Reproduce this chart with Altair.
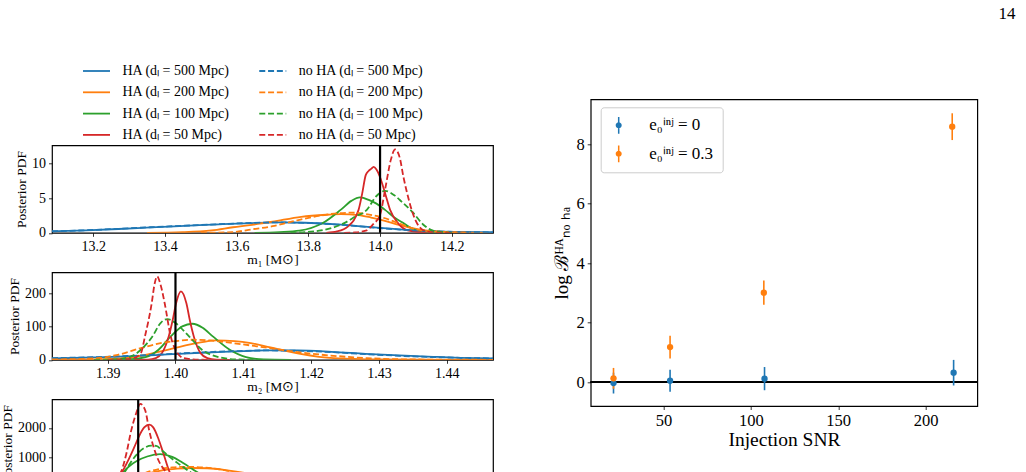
import altair as alt
import pandas as pd

FONT = "Liberation Serif"

# ---------------- series definitions ----------------
ha_series = ["HA (dₗ = 500 Mpc)", "HA (dₗ = 200 Mpc)", "HA (dₗ = 100 Mpc)", "HA (dₗ = 50 Mpc)"]
noha_series = ["no HA (dₗ = 500 Mpc)", "no HA (dₗ = 200 Mpc)", "no HA (dₗ = 100 Mpc)", "no HA (dₗ = 50 Mpc)"]
dist_colors = ["#1f77b4", "#ff7f0e", "#2ca02c", "#d62728"]

# ---------------- panel 1: m1 ----------------
m1_blue_ha_x = [13.085, 13.18, 13.27, 13.36, 13.455, 13.55, 13.643, 13.72, 13.79, 13.88, 13.972, 14.065, 14.16, 14.23, 14.315]
m1_blue_ha_y = [0.2, 0.35, 0.55, 0.78, 1.0, 1.22, 1.4, 1.5, 1.45, 1.2, 0.82, 0.45, 0.2, 0.12, 0.08]
m1_blue_no_x = m1_blue_ha_x
m1_blue_no_y = [0.22, 0.37, 0.57, 0.8, 1.02, 1.24, 1.42, 1.5, 1.44, 1.18, 0.8, 0.43, 0.19, 0.11, 0.07]
m1_orange_ha_x = [13.35, 13.45, 13.53, 13.59, 13.643, 13.70, 13.78, 13.85, 13.89, 13.94, 13.975, 14.008, 14.056, 14.11, 14.19, 14.3]
m1_orange_ha_y = [0, 0.1, 0.35, 0.8, 1.15, 1.6, 2.3, 2.6, 2.7, 2.55, 2.2, 1.8, 1.1, 0.45, 0.1, 0]
m1_orange_no_x = [13.5, 13.587, 13.643, 13.70, 13.753, 13.836, 13.88, 13.92, 13.96, 14.0, 14.056, 14.10, 14.16, 14.25]
m1_orange_no_y = [0, 0.1, 0.5, 0.95, 1.6, 2.5, 2.8, 2.9, 2.7, 2.3, 1.3, 0.5, 0.15, 0.02]
m1_green_ha_x = [13.65, 13.72, 13.775, 13.84, 13.89, 13.92, 13.944, 13.97, 13.99, 14.014, 14.04, 14.065, 14.1, 14.15, 14.2]
m1_green_ha_y = [0, 0.1, 0.3, 1.4, 3.3, 4.6, 5.1, 4.7, 4.2, 3.3, 2.2, 1.4, 0.4, 0.1, 0]
m1_green_no_x = [13.75, 13.83, 13.90, 13.93, 13.963, 13.99, 14.014, 14.04, 14.06, 14.092, 14.12, 14.148, 14.2]
m1_green_no_y = [0, 0.3, 1.4, 2.3, 3.3, 5.3, 6.05, 5.4, 4.5, 2.9, 1.2, 0.3, 0]
m1_red_ha_x = [13.85, 13.88, 13.91, 13.94, 13.95, 13.96, 13.968, 13.975, 13.982, 13.99, 14.0, 14.014, 14.028, 14.05, 14.08, 14.13]
m1_red_ha_y = [0, 0.2, 0.9, 3.3, 5.6, 8.3, 8.9, 9.2, 9.5, 9.1, 8.0, 5.7, 3.3, 1.4, 0.3, 0]
m1_red_no_x = [13.90, 13.93, 13.96, 13.98, 14.0, 14.015, 14.03, 14.042, 14.055, 14.065, 14.08, 14.09, 14.105, 14.12, 14.15, 14.2]
m1_red_no_y = [0, 0.05, 0.3, 1.2, 2.6, 6.5, 10.5, 12.0, 10.8, 8.1, 4.8, 3.0, 1.2, 0.4, 0.05, 0]

# ---------------- panel 2: m2 ----------------
m2_blue_x = [1.3818, 1.3880, 1.3938, 1.3988, 1.4037, 1.4087, 1.4135, 1.4180, 1.4230, 1.4280, 1.4330, 1.4380, 1.4420, 1.4468]
m2_blue_ha_y = [4, 7, 11, 16, 21, 25, 28, 28, 24, 18, 13, 9, 6, 4]
m2_blue_no_y = [5, 8, 12, 17, 22, 26, 28, 27, 23, 17, 12, 8, 6, 4]
m2_orange_ha_x = [1.3818, 1.3880, 1.3938, 1.3988, 1.4037, 1.4060, 1.4087, 1.4111, 1.4140, 1.4184, 1.4233, 1.4300, 1.4400, 1.4468]
m2_orange_ha_y = [0, 1, 8, 30, 52, 58, 56, 50, 37, 18, 5, 1, 0, 0]
m2_orange_no_x = [1.3818, 1.3880, 1.3915, 1.3949, 1.3978, 1.4000, 1.4023, 1.4050, 1.4085, 1.4135, 1.4184, 1.4233, 1.4282, 1.4350, 1.4468]
m2_orange_no_y = [1, 4, 15, 35, 50, 56, 60, 58, 50, 36, 22, 12, 5, 1, 0]
m2_green_ha_x = [1.3900, 1.3930, 1.3956, 1.3975, 1.3993, 1.4010, 1.4025, 1.4040, 1.4055, 1.4080, 1.4104, 1.4130, 1.4170]
m2_green_ha_y = [0, 1, 8, 30, 70, 100, 108, 96, 70, 30, 8, 1, 0]
m2_green_no_x = [1.3880, 1.3910, 1.3932, 1.3949, 1.3966, 1.3978, 1.3988, 1.4000, 1.4020, 1.4039, 1.4064, 1.4090, 1.4130]
m2_green_no_y = [0, 1, 8, 30, 70, 110, 122, 110, 70, 30, 8, 1, 0]
m2_red_ha_x = [1.3940, 1.3960, 1.3971, 1.3980, 1.3990, 1.3996, 1.4001, 1.4008, 1.4016, 1.4021, 1.4027, 1.4037, 1.4047, 1.4060, 1.4080]
m2_red_ha_y = [0, 0.5, 5, 20, 70, 120, 170, 205, 170, 120, 70, 20, 5, 0.5, 0]
m2_red_no_x = [1.3900, 1.3920, 1.3939, 1.3949, 1.3955, 1.3965, 1.3969, 1.3973, 1.3978, 1.3984, 1.3993, 1.4003, 1.4012, 1.4030, 1.4050]
m2_red_no_y = [0, 0.5, 5, 20, 70, 170, 225, 250, 225, 170, 70, 20, 5, 0.5, 0]

# ---------------- panel 3 (chirp mass, lower part cut off by the page) ----------------
mc_blue_x = [3.4490, 3.4496, 3.4502, 3.4508, 3.4514, 3.4520, 3.4526, 3.4534]
mc_blue_ha_y = [60, 150, 250, 300, 280, 220, 160, 100]
mc_blue_no_y = [70, 160, 255, 300, 275, 215, 155, 95]
mc_orange_ha_x = [3.44975, 3.44985, 3.44997, 3.45010, 3.45025, 3.45040, 3.45055, 3.45075, 3.45095, 3.45120, 3.45150, 3.45190, 3.45240]
mc_orange_ha_y = [0, 200, 454, 560, 620, 640, 630, 560, 454, 260, 90, 15, 0]
mc_orange_no_x = [3.44970, 3.44980, 3.44992, 3.45005, 3.45020, 3.45035, 3.45050, 3.45070, 3.45087, 3.45110, 3.45140, 3.45180, 3.45230]
mc_orange_no_y = [0, 200, 454, 590, 660, 680, 660, 580, 454, 250, 80, 10, 0]
mc_green_ha_x = [3.44958, 3.44964, 3.44970, 3.44977, 3.44985, 3.44995, 3.45008, 3.45020, 3.45030, 3.45047, 3.45060, 3.45075, 3.45090]
mc_green_ha_y = [0, 200, 454, 700, 887, 1030, 1113, 1020, 829, 454, 200, 50, 0]
mc_green_no_x = [3.44960, 3.44966, 3.449717, 3.44978, 3.44985, 3.44992, 3.44999, 3.45004, 3.45010, 3.45018, 3.450267, 3.45040, 3.45052, 3.45068, 3.45085]
mc_green_no_y = [0, 200, 454, 800, 1113, 1320, 1400, 1390, 1228, 1000, 771, 454, 220, 50, 0]
mc_red_ha_x = [3.44955, 3.44962, 3.44969, 3.44976, 3.44982, 3.44988, 3.44992, 3.44997, 3.45001, 3.45006, 3.45011, 3.45018, 3.45028, 3.45040]
mc_red_ha_y = [0, 150, 454, 900, 1341, 1800, 2020, 2116, 2020, 1650, 1150, 454, 120, 0]
mc_red_no_x = [3.44955, 3.44962, 3.44968, 3.44974, 3.44979, 3.44984, 3.44988, 3.44993, 3.44997, 3.45005, 3.45015, 3.45025, 3.45035]
mc_red_no_y = [0, 300, 454, 1100, 1911, 2500, 2819, 2600, 1911, 1000, 454, 150, 0]

truth_m1 = [14.0]
truth_m2 = [1.40]
truth_mc = [3.44986]

# ---------------- right panel ----------------
e0_labels = ["e₀ⁱⁿʲ = 0", "e₀ⁱⁿʲ = 0.3"]
snr_e0 = [21.3, 53.7, 107.8, 216.1]
logB_e0 = [-0.03, 0.05, 0.12, 0.32]
err_e0 = [0.35, 0.37, 0.39, 0.43]
snr_e03 = [21.3, 53.7, 107.4, 215.3]
logB_e03 = [0.13, 1.18, 3.01, 8.59]
err_e03 = [0.35, 0.38, 0.41, 0.45]
e0_colors = ["#1f77b4", "#ff7f0e"]


def curves_df(curves):
    rows = []
    for name, xs, ys in curves:
        for a, b in zip(xs, ys):
            rows.append({"series": name, "x": a, "y": b})
    return pd.DataFrame(rows)


H, N = ha_series, noha_series
df_m1 = curves_df([
    (H[0], m1_blue_ha_x, m1_blue_ha_y), (N[0], m1_blue_no_x, m1_blue_no_y),
    (H[1], m1_orange_ha_x, m1_orange_ha_y), (N[1], m1_orange_no_x, m1_orange_no_y),
    (H[2], m1_green_ha_x, m1_green_ha_y), (N[2], m1_green_no_x, m1_green_no_y),
    (H[3], m1_red_ha_x, m1_red_ha_y), (N[3], m1_red_no_x, m1_red_no_y),
])
df_m2 = curves_df([
    (H[0], m2_blue_x, m2_blue_ha_y), (N[0], m2_blue_x, m2_blue_no_y),
    (H[1], m2_orange_ha_x, m2_orange_ha_y), (N[1], m2_orange_no_x, m2_orange_no_y),
    (H[2], m2_green_ha_x, m2_green_ha_y), (N[2], m2_green_no_x, m2_green_no_y),
    (H[3], m2_red_ha_x, m2_red_ha_y), (N[3], m2_red_no_x, m2_red_no_y),
])
df_mc = curves_df([
    (H[0], mc_blue_x, mc_blue_ha_y), (N[0], mc_blue_x, mc_blue_no_y),
    (H[1], mc_orange_ha_x, mc_orange_ha_y), (N[1], mc_orange_no_x, mc_orange_no_y),
    (H[2], mc_green_ha_x, mc_green_ha_y), (N[2], mc_green_no_x, mc_green_no_y),
    (H[3], mc_red_ha_x, mc_red_ha_y), (N[3], mc_red_no_x, mc_red_no_y),
])

# ---------------- layout constants ----------------
PAD_L = 52
PAD_T = 99.3
PW = 441
PH = 87.5
LW = 1.8
DASH = [6, 2.8]

LINE_SYM = "M-2,0H2"
leg_common = dict(
    title=None, orient="none", symbolType=LINE_SYM, symbolSize=182,
    symbolStrokeWidth=LW, labelFont=FONT, labelFontSize=14, labelOffset=18,
    labelLimit=400, symbolOpacity=1, labelColor="black", rowPadding=6.3, padding=0,
)
ha_legend = alt.Legend(legendX=88.5 - PAD_L, legendY=63.0 - PAD_T, **leg_common)
noha_legend = alt.Legend(legendX=264.75 - PAD_L, legendY=63.0 - PAD_T,
                         symbolDash=DASH, **leg_common)
ha_scale = alt.Scale(domain=ha_series, range=dist_colors)
noha_scale = alt.Scale(domain=noha_series, range=dist_colors)


def panel(df, truth, xdom, ydom, xvals, yvals, xfmt, yfmt, xaxis):
    xenc = alt.X("x:Q", scale=alt.Scale(domain=xdom, nice=False, zero=False), axis=xaxis)
    yenc = alt.Y("y:Q", scale=alt.Scale(domain=ydom, nice=False, zero=False),
                 axis=alt.Axis(values=yvals, format=yfmt, title="Posterior PDF"))
    ha = alt.Chart(df).transform_filter(
        alt.FieldOneOfPredicate(field="series", oneOf=ha_series)
    ).mark_line(strokeWidth=LW, clip=True, interpolate="monotone").encode(
        x=xenc, y=yenc,
        color=alt.Color("series:N", scale=ha_scale, legend=ha_legend),
    )
    noha = alt.Chart(df).transform_filter(
        alt.FieldOneOfPredicate(field="series", oneOf=noha_series)
    ).mark_line(strokeWidth=LW, clip=True, interpolate="monotone",
                strokeDash=DASH).encode(
        x=xenc, y=yenc,
        stroke=alt.Stroke("series:N", scale=noha_scale, legend=noha_legend),
    )
    rule = alt.Chart(pd.DataFrame({"x": truth})).mark_rule(color="black", strokeWidth=2.2).encode(
        x="x:Q"
    )
    return alt.layer(ha, noha, rule).properties(width=PW, height=PH)


p1 = panel(df_m1, truth_m1, [13.085, 14.315], [0, 12.6], None, [0, 5, 10], None, "d",
           alt.Axis(values=[13.2, 13.4, 13.6, 13.8, 14.0, 14.2], format=".1f",
                    title="m₁ [M⊙]", titlePadding=-1))
p2 = panel(df_m2, truth_m2, [1.3818, 1.4468], [0, 262], None, [0, 100, 200], None, "d",
           alt.Axis(values=[1.39, 1.40, 1.41, 1.42, 1.43, 1.44], format=".2f",
                    title="m₂ [M⊙]", titlePadding=-1))
# the bottom of the third panel (its x labels) lies below the page edge
p3 = panel(df_mc, truth_mc, [3.4490, 3.4534], [0, 2975], None, [0, 1000, 2000], None, "d",
           alt.Axis(values=[3.4495, 3.4505, 3.4515, 3.4525], labels=False, title=""))

spacer = alt.Chart(pd.DataFrame({"s": [0]})).mark_point(opacity=0).encode(
    x=alt.X("s:Q", axis=None), y=alt.Y("s:Q", axis=None)
).properties(width=PW, height=6.7, view=alt.ViewBackground(stroke=None))

left = alt.vconcat(spacer, p1, p2, p3, spacing=39, bounds="flush").resolve_scale(
    x="independent", y="independent"
)

# ---------------- right panel ----------------
right_df = pd.DataFrame({
    "snr": snr_e0 + snr_e03,
    "logB": logB_e0 + logB_e03,
    "err": err_e0 + err_e03,
    "e0": [e0_labels[0]] * len(snr_e0) + [e0_labels[1]] * len(snr_e03),
})
right_df["lo"] = right_df["logB"] - right_df["err"]
right_df["hi"] = right_df["logB"] + right_df["err"]

SYMBOL = "M-0.09,-1H0.09V1H-0.09Z M0.36,0A0.36,0.36,0,1,1,-0.36,0A0.36,0.36,0,1,1,0.36,0Z"
right_legend = alt.Legend(
    title=None, orient="none", legendX=600.7 - PAD_L, legendY=107.3 - PAD_T,
    padding=9.5, strokeColor="#cccccc",
    fillColor="white", cornerRadius=3, symbolType=SYMBOL, symbolSize=280,
    symbolStrokeWidth=0, labelFont=FONT, labelFontSize=17, labelOffset=22,
    rowPadding=10.5, symbolOpacity=1, labelColor="black", labelLimit=300,
)
e0_scale = alt.Scale(domain=e0_labels, range=e0_colors)
xR = alt.X("snr:Q", scale=alt.Scale(domain=[11.1, 226.8], nice=False, zero=False),
           axis=alt.Axis(values=[50, 100, 150, 200], title="Injection SNR",
                         labelFontSize=16.5, titleFontSize=19.5, titlePadding=1.5))
yaxisR = alt.Axis(values=[0, 2, 4, 6, 8], title="log ℬᴴᴬₙₒ ₕₐ",
                  labelFontSize=16.5, titleFontSize=19, titlePadding=4)
yscaleR = alt.Scale(domain=[-0.8, 9.51], nice=False, zero=False)

zero_line = alt.Chart(right_df).mark_rule(color="black", strokeWidth=1.2).encode(
    y=alt.datum(0, scale=yscaleR, axis=yaxisR)
)
bars = alt.Chart(right_df).mark_bar(size=1.6).encode(
    x=xR, y=alt.Y("lo:Q", scale=yscaleR, axis=yaxisR), y2="hi:Q",
    fill=alt.Fill("e0:N", scale=e0_scale, legend=right_legend),
)
pts = alt.Chart(right_df).mark_point(filled=True, size=40, opacity=1).encode(
    x=xR, y=alt.Y("logB:Q", scale=yscaleR, axis=yaxisR),
    fill=alt.Fill("e0:N", scale=e0_scale, legend=right_legend),
)
right = alt.layer(zero_line, bars, pts).properties(width=386.6, height=306.7)

chart = alt.hconcat(left, right, spacing=57.7).resolve_scale(
    x="independent", y="independent"
).properties(
    autosize=alt.AutoSizeParams(type="none"),
    padding={"left": PAD_L, "top": PAD_T, "right": 1026 - PAD_L, "bottom": 472 - PAD_T},
    title=alt.TitleParams("14", anchor="end", font=FONT, fontSize=17,
                          fontWeight="normal", color="black", offset=40, dx=37),
).configure_view(
    stroke="black", strokeWidth=1.2
).configure_axis(
    labelFont=FONT, titleFont=FONT, titleFontWeight="normal", labelColor="black",
    titleColor="black", tickColor="black", domain=False, grid=False,
    tickSize=3.5, tickWidth=0.8, labelPadding=3, labelFontSize=14, titleFontSize=13.5,
    titlePadding=3,
)

chart.save("out.html", embed_options={"renderer": "svg", "actions": False})
